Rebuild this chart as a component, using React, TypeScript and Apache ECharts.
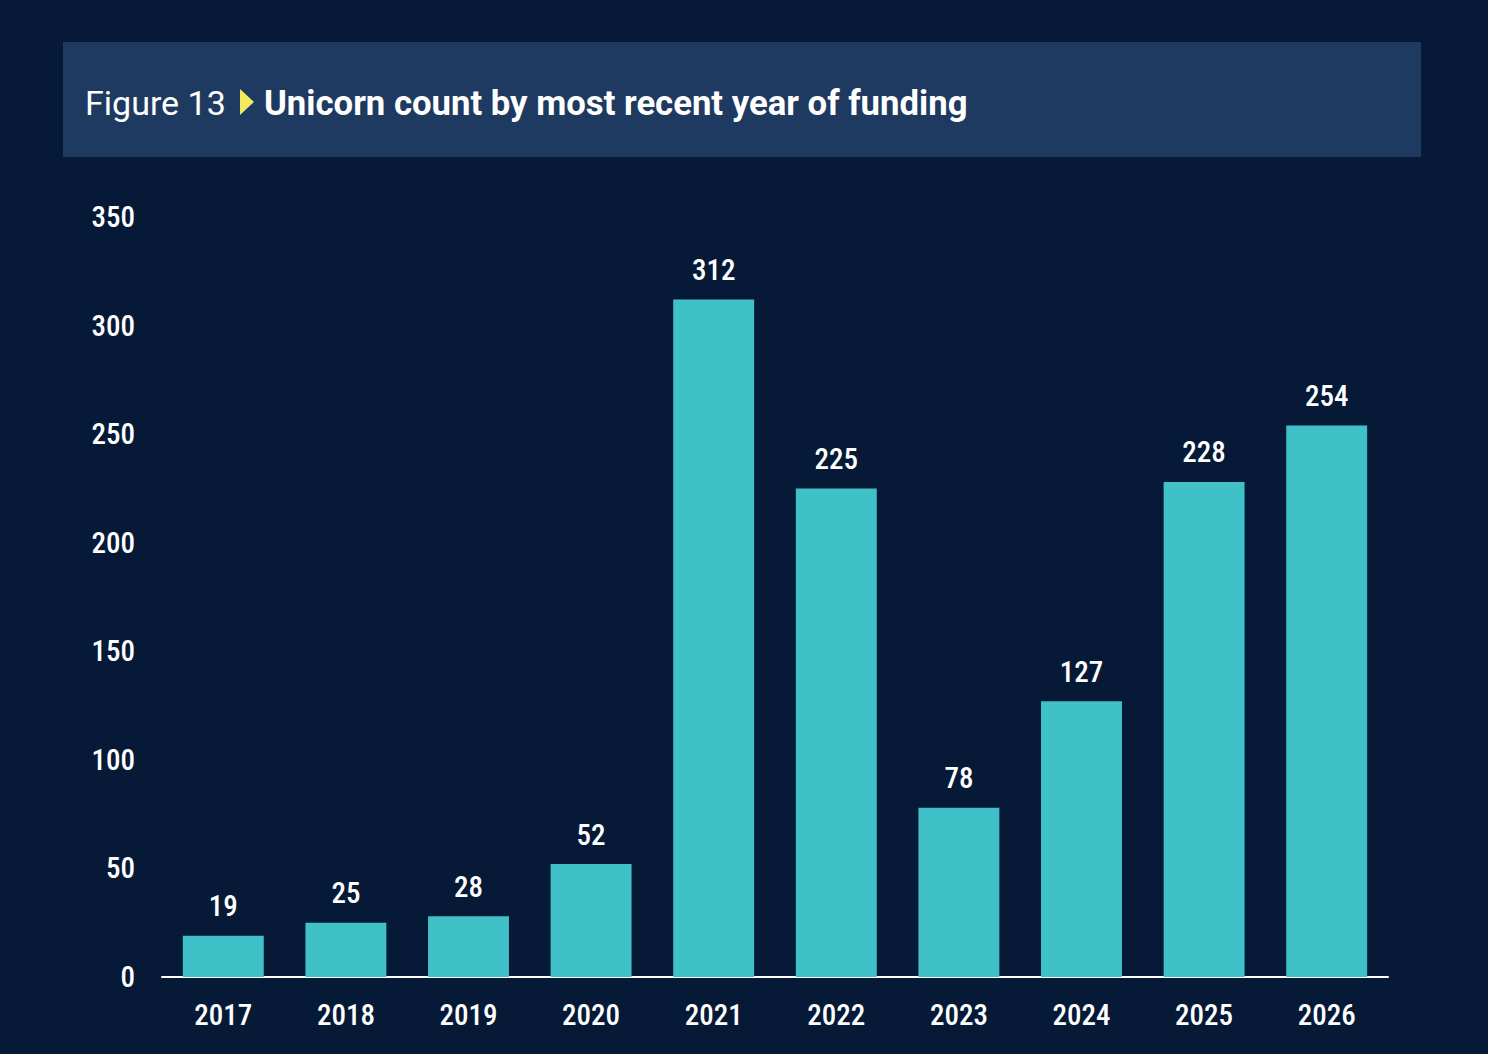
import React, { useEffect, useRef } from "react";
import * as echarts from "echarts";

const years = ["2017", "2018", "2019", "2020", "2021", "2022", "2023", "2024", "2025", "2026"];
const counts = [19, 25, 28, 52, 312, 225, 78, 127, 228, 254];
const yTicks = [0, 50, 100, 150, 200, 250, 300, 350];

const titlePrefix = "Figure 13";
const titleMain = "Unicorn count by most recent year of funding";

const BG = "#061a38";
const BOX = "#1e3a60";
const BAR = "#40c1c8";
const COND = "'Roboto Condensed', 'Liberation Sans Narrow', 'DejaVu Sans Condensed', Roboto, sans-serif";

export default function App() {
  const ref = useRef<HTMLDivElement>(null);
  useEffect(() => {
    document.body.style.margin = "0";
    document.body.style.background = BG;
    const chart = echarts.init(ref.current!, null, { renderer: "svg" });
    chart.setOption({
      animation: false,
      backgroundColor: BG,
      grid: { left: 162, right: 100, top: 217, bottom: 77, containLabel: false },
      graphic: [
        { type: "rect", shape: { x: 63, y: 42, width: 1358, height: 115 }, style: { fill: BOX } },
        {
          type: "text",
          x: 85,
          y: 103,
          style: {
            text: titlePrefix,
            fill: "#ffffff",
            font: "400 34px Roboto, sans-serif",
            verticalAlign: "middle",
          },
        },
        {
          type: "polygon",
          shape: { points: [[240, 89], [254, 102], [240, 115]] },
          style: { fill: "#f3ea5f" },
        },
        {
          type: "text",
          x: 264,
          y: 103,
          style: {
            text: titleMain,
            fill: "#ffffff",
            font: "700 34.7px Roboto, sans-serif",
            verticalAlign: "middle",
          },
        },
      ],
      xAxis: {
        type: "category",
        data: years,
        axisLine: { show: true, lineStyle: { color: "#ffffff", width: 2 } },
        axisTick: { show: false },
        axisLabel: { color: "#ffffff", fontSize: 29, fontWeight: 500, fontFamily: COND, margin: 23 },
      },
      yAxis: {
        type: "value",
        min: 0,
        max: yTicks[yTicks.length - 1],
        interval: 50,
        axisLine: { show: false },
        axisTick: { show: false },
        splitLine: { show: false },
        axisLabel: { color: "#ffffff", fontSize: 29, fontWeight: 500, fontFamily: COND, margin: 27 },
      },
      series: [
        {
          type: "bar",
          data: counts,
          barWidth: "66%",
          itemStyle: { color: BAR },
          label: {
            show: true,
            position: "top",
            distance: 15,
            color: "#ffffff",
            fontSize: 29,
            fontWeight: 500,
            fontFamily: COND,
          },
        },
      ],
    });
    return () => chart.dispose();
  }, []);
  return <div ref={ref} style={{ width: 1488, height: 1054 }} />;
}
